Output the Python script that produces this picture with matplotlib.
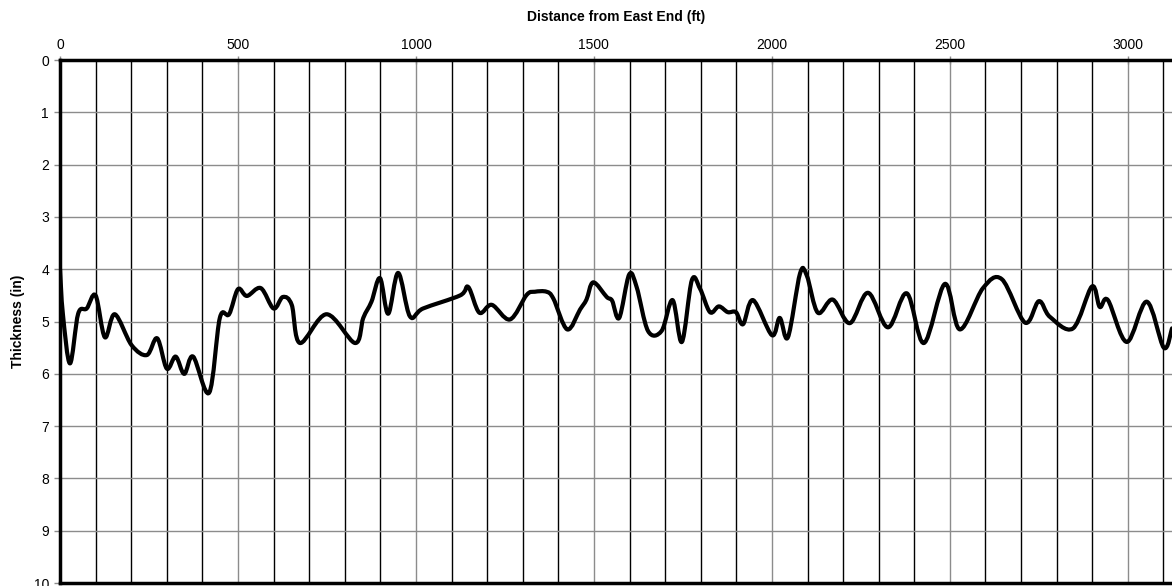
import numpy as np
import matplotlib.pyplot as plt
from matplotlib.path import Path
from matplotlib.patches import PathPatch
from matplotlib.ticker import MultipleLocator

plt.rcParams['font.family'] = ['Liberation Sans', 'DejaVu Sans']

# data (distance in ft, thickness in inches)
distance = [0, 8, 28, 51, 75, 100, 126, 154, 201, 244, 273, 300, 325, 349, 374,
            419, 449, 475, 500, 525, 564, 600, 626, 651, 674, 749, 829, 852, 875,
            899, 922, 950, 983, 1020, 1124, 1147, 1178, 1213, 1264, 1311, 1334,
            1367, 1386, 1425, 1461, 1479, 1498, 1536, 1551, 1571, 1599, 1620,
            1652, 1690, 1721, 1747, 1775, 1798, 1826, 1851, 1876, 1899, 1919,
            1947, 2000, 2022, 2045, 2079, 2098, 2129, 2171, 2219, 2270, 2326,
            2379, 2427, 2486, 2528, 2593, 2646, 2711, 2750, 2781, 2846, 2899,
            2921, 2944, 2997, 3053, 3101, 3124]
thickness = [4.0, 4.85, 5.8, 4.85, 4.75, 4.5, 5.3, 4.86, 5.45, 5.64, 5.32, 5.9,
             5.67, 6.0, 5.67, 6.36, 4.93, 4.86, 4.38, 4.51, 4.36, 4.75, 4.53,
             4.68, 5.41, 4.86, 5.41, 4.93, 4.62, 4.17, 4.85, 4.07, 4.9, 4.75,
             4.5, 4.34, 4.83, 4.68, 4.96, 4.49, 4.43, 4.43, 4.56, 5.15, 4.77,
             4.58, 4.25, 4.53, 4.6, 4.93, 4.1, 4.34, 5.18, 5.18, 4.59, 5.39,
             4.21, 4.37, 4.82, 4.71, 4.82, 4.82, 5.05, 4.59, 5.26, 4.93, 5.3,
             4.08, 4.12, 4.83, 4.58, 5.03, 4.45, 5.11, 4.46, 5.41, 4.28, 5.15,
             4.36, 4.19, 5.02, 4.61, 4.91, 5.13, 4.33, 4.72, 4.59, 5.39, 4.62,
             5.5, 5.13]

x_labels_step = 500

fig = plt.figure(figsize=(11.72, 5.86), dpi=100)
ax = fig.add_axes([0.0512, 0.005, 0.9488, 0.8925])

# smoothed line like a spreadsheet "smooth" series: cubic Bezier segments
pts = np.column_stack([distance, thickness]).astype(float)
verts = [tuple(pts[0])]
codes = [Path.MOVETO]
n = len(pts)
for i in range(n - 1):
    p0 = pts[i - 1] if i > 0 else pts[i]
    p1 = pts[i]
    p2 = pts[i + 1]
    p3 = pts[i + 2] if i + 2 < n else pts[i + 1]
    c1 = p1 + (p2 - p0) / 6.0
    c2 = p2 - (p3 - p1) / 6.0
    verts += [tuple(c1), tuple(c2), tuple(p2)]
    codes += [Path.CURVE4] * 3
ax.add_patch(PathPatch(Path(verts, codes), facecolor='none', edgecolor='black',
                       lw=3.0, capstyle='round', joinstyle='round', zorder=3))

ax.set_xlim(0, 3124)
ax.set_ylim(10, 0)

ax.xaxis.set_major_locator(MultipleLocator(x_labels_step))
ax.xaxis.set_minor_locator(MultipleLocator(100))
ax.yaxis.set_major_locator(MultipleLocator(1))
ax.xaxis.tick_top()
ax.xaxis.set_label_position('top')

ax.grid(True, which='major', axis='both', color='#8c8c8c', lw=1.0, zorder=1)
ax.grid(True, which='minor', axis='x', color='black', lw=1.0, zorder=1)

ax.tick_params(axis='x', which='major', direction='inout', length=6, width=1,
               color='#8c8c8c', labelsize=10, pad=3)
ax.tick_params(axis='x', which='minor', length=0)
ax.tick_params(axis='y', which='major', direction='out', length=4, width=1,
               color='#8c8c8c', labelsize=10, pad=4)

for side in ['top', 'left', 'bottom']:
    ax.spines[side].set_linewidth(2.5)
    ax.spines[side].set_zorder(4)
ax.spines['right'].set_visible(False)

ax.set_xlabel('Distance from East End (ft)', fontsize=10, fontweight='bold', labelpad=12)
ax.set_ylabel('Thickness (in)', fontsize=10, fontweight='bold', labelpad=6)

plt.savefig('out.png', dpi=100)
